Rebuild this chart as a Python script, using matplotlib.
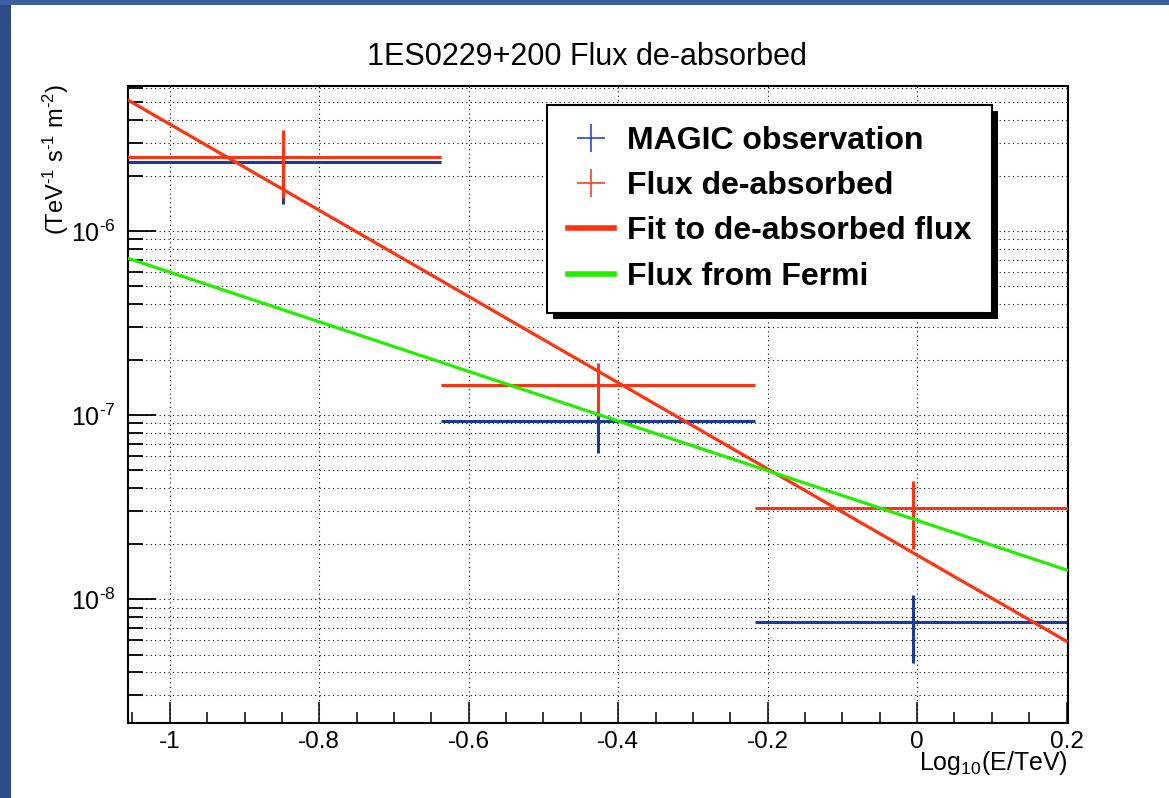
import matplotlib
matplotlib.use('Agg')
import matplotlib.pyplot as plt
import numpy as np
from matplotlib.lines import Line2D
from matplotlib.patches import Rectangle
from matplotlib.ticker import FixedLocator, FixedFormatter, LogLocator, NullFormatter, MultipleLocator

plt.rcParams['font.family'] = ['Liberation Sans', 'DejaVu Sans']
plt.rcParams['mathtext.fontset'] = 'custom'
plt.rcParams['mathtext.rm'] = 'Liberation Sans'
plt.rcParams['mathtext.it'] = 'Liberation Sans:italic'
plt.rcParams['mathtext.bf'] = 'Liberation Sans:bold'

# ---------------- data ----------------
log_e = [-0.848, -0.427, -0.006]
log_e_halfwidth = [0.2105, 0.2105, 0.2105]
magic_flux = [2.36e-6, 9.23e-8, 7.5e-9]
magic_err = [0.96e-6, 3.0e-8, 3.0e-9]
deabs_flux = [2.54e-6, 1.45e-7, 3.12e-8]
deabs_err = [1.02e-6, 0.46e-7, 1.245e-8]
fit_log_e = [-1.056, 0.200]
fit_flux = [5.15e-6, 5.9e-9]
fermi_log_e = [-1.056, 0.200]
fermi_flux = [7.11e-7, 1.44e-8]
x_ticks = [-1, -0.8, -0.6, -0.4, -0.2, 0, 0.2]
x_tick_labels = ['-1', '-0.8', '-0.6', '-0.4', '-0.2', '0', '0.2']
y_ticks = [1e-8, 1e-7, 1e-6]
y_tick_labels = [r'$10^{\text{-}8}$', r'$10^{\text{-}7}$', r'$10^{\text{-}6}$']
legend_labels = ['MAGIC observation', 'Flux de-absorbed',
                 'Fit to de-absorbed flux', 'Flux from Fermi']
title = '1ES0229+200 Flux de-absorbed'
y_label = r'(TeV$^{\text{-}1}$ s$^{\text{-}1}$ m$^{\text{-}2}$)'
x_label = r'Log$_{10}$(E/TeV)'

W, H = 1169, 798
fig = plt.figure(figsize=(W / 100, H / 100), dpi=100, facecolor='white')

# slide border
fig.patches.append(Rectangle((0, 0), 11 / W, 1, transform=fig.transFigure,
                             facecolor='#2b4c84', edgecolor='none'))
fig.patches.append(Rectangle((0, 1 - 5 / H), 1, 5 / H, transform=fig.transFigure,
                             facecolor='#3c5fa3', edgecolor='none'))

ax = fig.add_axes([128 / W, 1 - 722.7 / H, (1068 - 128) / W, (722.7 - 86) / H])

BLUE = '#1a3a9c'
RED = '#ff3311'
GREEN = '#22ee00'

ax.errorbar(log_e, magic_flux, xerr=log_e_halfwidth, yerr=magic_err, fmt='none',
            ecolor=BLUE, elinewidth=2.2, capsize=0, zorder=2)
ax.errorbar(log_e, deabs_flux, xerr=log_e_halfwidth, yerr=deabs_err, fmt='none',
            ecolor=RED, elinewidth=2.2, capsize=0, zorder=3)
ax.plot(fit_log_e, fit_flux, color=RED, lw=2.3, zorder=3.5)
ax.plot(fermi_log_e, fermi_flux, color=GREEN, lw=2.3, zorder=4)

ax.set_yscale('log')
ax.set_xlim(-1.056, 0.202)
ax.set_ylim(2.13e-9, 6.14e-6)

ax.xaxis.set_major_locator(FixedLocator(x_ticks))
ax.xaxis.set_major_formatter(FixedFormatter(x_tick_labels))
ax.xaxis.set_minor_locator(MultipleLocator(0.05))
ax.yaxis.set_major_locator(FixedLocator(y_ticks))
ax.yaxis.set_major_formatter(FixedFormatter(y_tick_labels))
ax.yaxis.set_minor_locator(LogLocator(base=10, subs=np.arange(2, 10), numticks=30))
ax.yaxis.set_minor_formatter(NullFormatter())

ax.tick_params(axis='x', which='major', direction='in', length=15, width=1.1,
               labelsize=17.5, pad=6, top=False)
ax.tick_params(axis='x', which='minor', direction='in', length=8, width=1.1, top=False)
ax.tick_params(axis='y', which='major', direction='in', length=20, width=1.3,
               labelsize=18, pad=9, right=False)
ax.tick_params(axis='y', which='minor', direction='in', length=11, width=1.3, right=False)

for s in ax.spines.values():
    s.set_linewidth(1.5)

grid_kw = dict(color='black', lw=0.8, ls=(0, (1, 3)))
ax.xaxis.grid(True, which='major', **grid_kw)
ax.yaxis.grid(True, which='both', **grid_kw)
ax.set_axisbelow(True)

fig.text(587 / W, 1 - 65 / H, title, ha='center', va='baseline', fontsize=22)
fig.text(56 / W, 1 - 84 / H, y_label, rotation=90,
         ha='center', va='top', fontsize=17)
fig.text(1068 / W, 1 - 770 / H, x_label, ha='right', va='baseline',
         fontsize=18)

handles = [
    Line2D([], [], color='#2447e0', marker='+', ls='none', markersize=20, mew=1.2),
    Line2D([], [], color='#ff4020', marker='+', ls='none', markersize=20, mew=1.2),
    Line2D([], [], color=RED, lw=4),
    Line2D([], [], color=GREEN, lw=4),
]
leg = ax.legend(handles, legend_labels, loc='upper left',
                bbox_to_anchor=(547 / W, 1 - 105 / H), bbox_transform=fig.transFigure,
                prop={'family': 'Liberation Sans', 'weight': 'bold', 'size': 23},
                frameon=True, fancybox=False, framealpha=1, edgecolor='black',
                borderpad=0.65, labelspacing=0.48, handlelength=1.45,
                handletextpad=0.4, borderaxespad=0)
leg.get_frame().set_linewidth(1.5)
leg.set_zorder(10)

fig.canvas.draw()
bb = leg.get_window_extent()
inv = ax.transAxes.inverted()
x0, y0 = inv.transform((bb.x0 + 6, bb.y0 - 6))
x1, y1 = inv.transform((bb.x1 + 6, bb.y1 - 6))
ax.add_patch(Rectangle((x0, y0), x1 - x0, y1 - y0, transform=ax.transAxes,
                       facecolor='black', edgecolor='none', zorder=9, clip_on=False))

fig.savefig('out.png', dpi=100, facecolor='white')
